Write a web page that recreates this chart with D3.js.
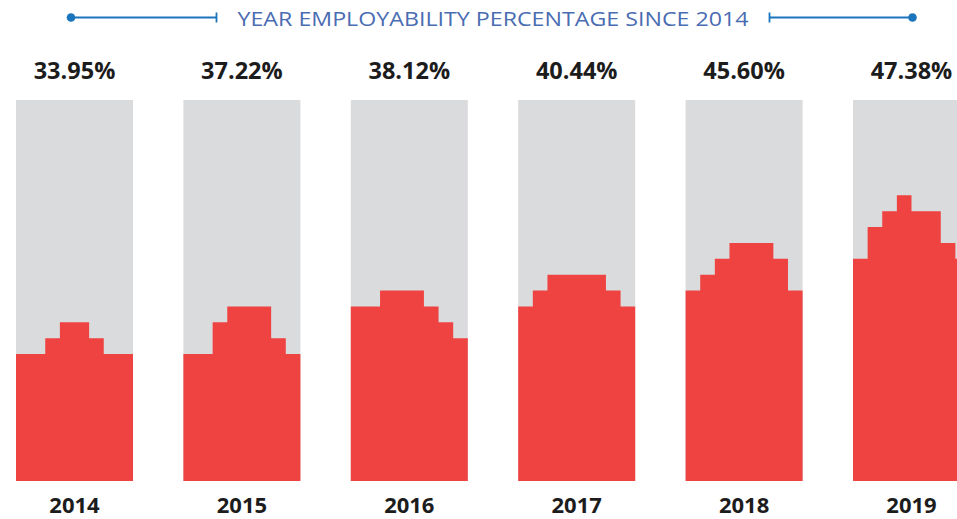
<!DOCTYPE html>
<html>
<head>
<meta charset="utf-8">
<script src="https://cdn.jsdelivr.net/npm/d3@7"></script>
<style>
  html, body { margin: 0; padding: 0; background: #ffffff; }
  svg { display: block; }
</style>
</head>
<body>
<svg id="chart" width="957" height="519"></svg>
<script>
// Years shown under each column and the rate printed above it
const years = ["2014", "2015", "2016", "2017", "2018", "2019"];
const rates = [33.95, 37.22, 38.12, 40.44, 45.60, 47.38];

// Stepped fill profile of each column: 8 slices, heights on a 24-row grid
const profile2014 = [8, 8, 9, 10, 10, 9, 8, 8];
const profile2015 = [8, 8, 10, 11, 11, 11, 9, 8];
const profile2016 = [11, 11, 12, 12, 12, 11, 10, 9];
const profile2017 = [11, 12, 13, 13, 13, 13, 12, 11];
const profile2018 = [12, 13, 14, 15, 15, 15, 14, 12];
const profile2019 = [14, 16, 17, 18, 17, 17, 15, 14];
const profiles = [profile2014, profile2015, profile2016, profile2017, profile2018, profile2019];

const title = "YEAR EMPLOYABILITY PERCENTAGE SINCE 2014";
const gridRows = 24;

const svg = d3.select("#chart");

const x = d3.scaleBand()
  .domain(years)
  .range([16, 970])
  .paddingInner(0.301)
  .paddingOuter(0);

const y = d3.scaleLinear()
  .domain([0, gridRows])
  .range([481, 100]);

const fmt = d => d3.format(".2f")(d) + "%";

// Title with bracket lines on both sides
const header = svg.append("g").attr("class", "header");
const lineColor = "#1b75bc";
const headY = 17.5;
[[71, 216.5], [912.5, 769.5]].forEach(([dotX, tickX]) => {
  header.append("line")
    .attr("x1", dotX).attr("x2", tickX)
    .attr("y1", headY).attr("y2", headY)
    .attr("stroke", lineColor).attr("stroke-width", 1.8);
  header.append("line")
    .attr("x1", tickX).attr("x2", tickX)
    .attr("y1", headY - 5).attr("y2", headY + 5)
    .attr("stroke", lineColor).attr("stroke-width", 1.8);
  header.append("circle")
    .attr("cx", dotX).attr("cy", headY).attr("r", 4.3)
    .attr("fill", lineColor);
});
header.append("text")
  .attr("x", 493).attr("y", 25.5)
  .attr("text-anchor", "middle")
  .attr("font-family", "'Open Sans', sans-serif")
  .attr("font-size", 20)
  .attr("fill", "#4a6cb2")
  .attr("textLength", 511)
  .attr("lengthAdjust", "spacingAndGlyphs")
  .text(title);

// Columns
const cols = svg.append("g").attr("class", "columns")
  .selectAll("g")
  .data(years.map((yr, i) => ({ year: yr, rate: rates[i], profile: profiles[i] })))
  .join("g");

cols.append("rect")
  .attr("x", d => x(d.year))
  .attr("y", y(gridRows))
  .attr("width", x.bandwidth())
  .attr("height", y(0) - y(gridRows))
  .attr("fill", "#dadbdd");

cols.append("path")
  .attr("fill", "#ef4341")
  .attr("d", d => {
    const sx = d3.scaleLinear().domain([0, d.profile.length])
      .range([x(d.year), x(d.year) + x.bandwidth()]);
    const pts = d.profile.map((v, j) => [j, v]);
    pts.push([d.profile.length, d.profile[d.profile.length - 1]]);
    return d3.area()
      .x(p => sx(p[0]))
      .y0(y(0))
      .y1(p => y(p[1]))
      .curve(d3.curveStepAfter)(pts);
  });

cols.append("text")
  .attr("x", d => x(d.year) + x.bandwidth() / 2)
  .attr("y", 79)
  .attr("text-anchor", "middle")
  .attr("font-family", "'Open Sans', sans-serif")
  .attr("font-weight", 700)
  .attr("font-size", 23.5)
  .attr("fill", "#1c1c1c")
  .text(d => fmt(d.rate));

cols.append("text")
  .attr("x", d => x(d.year) + x.bandwidth() / 2)
  .attr("y", 513)
  .attr("text-anchor", "middle")
  .attr("font-family", "'Open Sans', sans-serif")
  .attr("font-weight", 700)
  .attr("font-size", 22)
  .attr("fill", "#1c1c1c")
  .text(d => d.year);
</script>
</body>
</html>
